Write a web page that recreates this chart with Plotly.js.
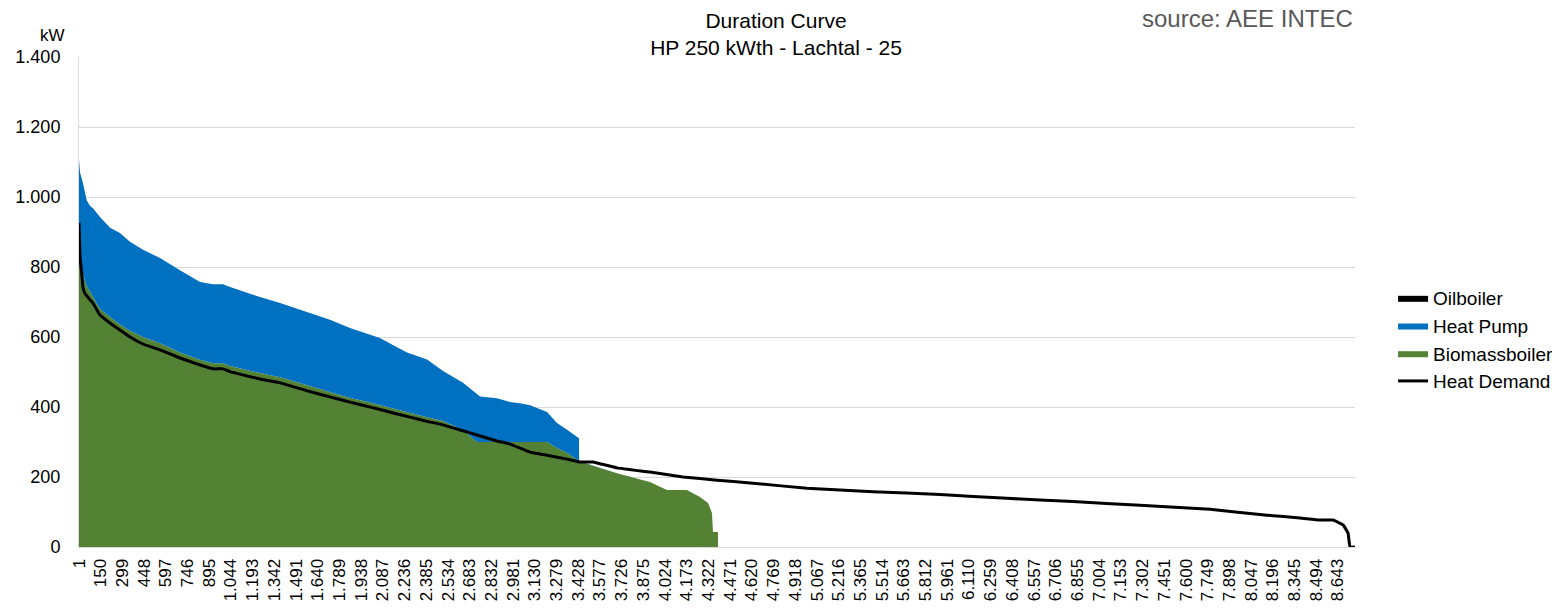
<!DOCTYPE html>
<html>
<head>
<meta charset="utf-8">
<script src="https://cdn.plot.ly/plotly-3.0.1.min.js"></script>
<style>
html,body{margin:0;padding:0;background:#fff;}
#chart{width:1552px;height:608px;}
</style>
</head>
<body>
<div id="chart"></div>
<script>
const areaHours = [1, 8, 28, 54, 77, 97, 145, 214, 282, 351, 440, 557, 694, 832, 921, 990, 1038, 1243, 1381, 1587, 1724, 1861, 1950, 2067, 2184, 2253, 2390, 2500, 2637, 2733, 2754, 2870, 2960, 3028, 3097, 3214, 3282, 3351, 3419, 3433, 3434, 3577, 3694, 3920, 4037, 4147, 4174, 4264, 4319, 4346, 4353, 4387, 4388, 8760];
const biomassKW = [860, 830, 780, 745, 729, 715, 680, 657, 636, 618, 600, 582, 556, 535, 525, 525, 517, 497, 485, 460, 443, 426, 418, 405, 393, 385, 371, 360, 334, 300, 300, 300, 300, 300, 300, 300, 283, 269, 249, 246, 246, 226, 211, 186, 163, 163, 163, 143, 126, 97, 43, 43, 0, 0];
const heatPumpKW = [246, 240, 260, 246, 245, 253, 263, 255, 261, 254, 249, 244, 235, 222, 226, 226, 226, 217, 212, 208, 206, 200, 196, 192, 178, 171, 165, 143, 135, 136, 130, 125, 114, 111, 105, 86, 71, 66, 65, 65, 0, 0, 0, 0, 0, 0, 0, 0, 0, 0, 0, 0, 0, 0];
const oilboilerKW = [0, 0, 0, 0, 0, 0, 0, 0, 0, 0, 0, 0, 0, 0, 0, 0, 0, 0, 0, 0, 0, 0, 0, 0, 0, 0, 0, 0, 0, 0, 0, 0, 0, 0, 0, 0, 0, 0, 0, 0, 0, 0, 0, 0, 0, 0, 0, 0, 0, 0, 0, 0, 0, 0];

const demandHours = [1, 8, 20, 28, 40, 77, 97, 145, 214, 282, 351, 440, 557, 694, 832, 921, 990, 1038, 1243, 1381, 1587, 1724, 1861, 1950, 2067, 2184, 2273, 2390, 2500, 2637, 2733, 2870, 2960, 3097, 3214, 3351, 3440, 3529, 3694, 3920, 4147, 4380, 4607, 4998, 5451, 5911, 6371, 6824, 7284, 7765, 7922, 8156, 8382, 8520, 8609, 8678, 8712, 8726, 8760];
const demandKW = [926, 830, 780, 743, 726, 706, 697, 663, 640, 620, 600, 580, 563, 540, 520, 509, 509, 501, 480, 469, 444, 429, 414, 405, 393, 380, 371, 359, 349, 332, 320, 303, 294, 271, 262, 251, 243, 243, 226, 214, 200, 191, 183, 168, 158, 150, 139, 130, 119, 108, 101, 91, 83, 77, 77, 63, 40, 0, 0];

const tickLabels = ["1","150","299","448","597","746","895","1.044","1.193","1.342","1.491","1.640","1.789","1.938","2.087","2.236","2.385","2.534","2.683","2.832","2.981","3.130","3.279","3.428","3.577","3.726","3.875","4.024","4.173","4.322","4.471","4.620","4.769","4.918","5.067","5.216","5.365","5.514","5.663","5.812","5.961","6.110","6.259","6.408","6.557","6.706","6.855","7.004","7.153","7.302","7.451","7.600","7.749","7.898","8.047","8.196","8.345","8.494","8.643"];
const tickPositions = tickLabels.map(s => Number(s.replace('.', '')));

const FONT = '"Liberation Sans", Arial, sans-serif';

const traces = [
  {
    name: 'Biomassboiler', x: areaHours, y: biomassKW, type: 'scatter', mode: 'lines',
    stackgroup: 'gen', line: {width: 0, color: '#548235'}, fillcolor: '#548235', legendrank: 3, hoverinfo: 'skip'
  },
  {
    name: 'Heat Pump', x: areaHours, y: heatPumpKW, type: 'scatter', mode: 'lines',
    stackgroup: 'gen', line: {width: 0, color: '#0070C0'}, fillcolor: '#0070C0', legendrank: 2, hoverinfo: 'skip'
  },
  {
    name: 'Oilboiler', x: areaHours, y: oilboilerKW, type: 'scatter', mode: 'lines',
    stackgroup: 'gen', line: {width: 0, color: '#000000'}, fillcolor: '#000000', legendrank: 1, hoverinfo: 'skip'
  },
  {
    name: 'Heat Demand', x: demandHours, y: demandKW, type: 'scatter', mode: 'lines',
    line: {width: 3, color: '#000000', shape: 'spline', smoothing: 0.3}, legendrank: 4, hoverinfo: 'skip'
  }
];

const layout = {
  width: 1552, height: 608,
  paper_bgcolor: '#ffffff', plot_bgcolor: '#ffffff',
  separators: ',.',
  font: {family: FONT, color: '#000000', size: 17},
  margin: {l: 79, r: 197, t: 57, b: 61, pad: 0, autoexpand: false},
  title: {
    text: 'Duration Curve<br>HP 250 kWth - Lachtal - 25',
    font: {family: FONT, size: 21, color: '#000000'},
    x: 0.5, xref: 'container', xanchor: 'center',
    y: 0.954, yref: 'container', yanchor: 'top'
  },
  showlegend: true,
  legend: {
    xref: 'container', x: 0.8976, xanchor: 'left', y: 0.547, yanchor: 'top',
    traceorder: 'normal', font: {family: FONT, size: 19, color: '#000000'},
    itemwidth: 30, bgcolor: 'rgba(0,0,0,0)', tracegroupgap: 0
  },
  xaxis: {
    type: 'linear', range: [1, 8760], fixedrange: true,
    tickmode: 'array', tickvals: tickPositions, ticktext: tickLabels,
    tickangle: -90, tickfont: {family: FONT, size: 17, color: '#000000'},
    showgrid: false, zeroline: false, showline: true, linecolor: '#D9D9D9', linewidth: 1,
    ticks: '', ticklabelstandoff: 4, automargin: false
  },
  yaxis: {
    range: [0, 1400], fixedrange: true, tick0: 0, dtick: 200,
    tickformat: ',d', tickfont: {family: FONT, size: 18, color: '#000000'},
    showgrid: true, gridcolor: '#D9D9D9', gridwidth: 1,
    zeroline: false, showline: true, linecolor: '#D9D9D9', linewidth: 1,
    ticks: '', ticklabelstandoff: 14, automargin: false
  },
  annotations: [
    {
      text: 'kW', xref: 'paper', yref: 'paper', x: -0.021, y: 1.02, xanchor: 'center', yanchor: 'bottom',
      showarrow: false, font: {family: FONT, size: 17, color: '#000000'}
    },
    {
      text: 'source: AEE INTEC', xref: 'paper', yref: 'paper', x: 1.0, y: 1.11, xanchor: 'right', yanchor: 'top',
      showarrow: false, font: {family: FONT, size: 24, color: '#595959'}
    }
  ]
};

Plotly.newPlot('chart', traces, layout, {displayModeBar: false, staticPlot: true});
</script>
</body>
</html>
